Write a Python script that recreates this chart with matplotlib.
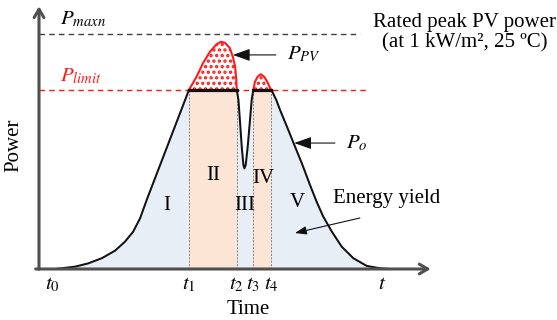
import numpy as np
import matplotlib
matplotlib.use('Agg')
import matplotlib.pyplot as plt

plt.rcParams['font.family'] = ['Liberation Serif', 'DejaVu Serif']
plt.rcParams['mathtext.fontset'] = 'stix'
plt.rcParams['hatch.linewidth'] = 1.6

# time in arbitrary units (t0 = 0, t = 10), power normalised to P_maxn = 1
t0, t1, t2, t3, t4, t_end = 0.0, 4.15, 5.60, 6.10, 6.65, 10.0
p_maxn = 1.0
p_limit = 0.762

# output power P_o
rise_t = [0.09, 0.29, 0.70, 1.10, 1.51, 1.91, 2.21, 2.46, 2.67, 2.87, t1]
rise_p = [0.0, 0.003, 0.010, 0.024, 0.046, 0.078, 0.116, 0.159, 0.216, 0.294, p_limit]
dip_t = [t2, 5.65, 5.70, 5.75, 5.80, 5.83, 5.87, 5.93, 6.00, 6.05, t3]
dip_p = [p_limit, 0.719, 0.621, 0.520, 0.443, 0.428, 0.443, 0.520, 0.634, 0.719, p_limit]
fall_t = [t4, 6.80, 6.91, 7.16, 7.32, 7.57, 7.82, 8.02, 8.22, 8.48, 8.78, 9.13, 9.54, 9.94, 10.24]
fall_p = [p_limit, 0.718, 0.677, 0.592, 0.536, 0.450, 0.357, 0.286, 0.223, 0.159, 0.095, 0.046, 0.013, 0.003, 0.0]

# available PV power above the limit (curtailed part)
pv1_t = [t1, 4.38, 4.58, 4.79, 4.99, 5.12, 5.24, 5.39, 5.48, 5.55, 5.58, t2]
pv1_p = [p_limit, 0.818, 0.877, 0.925, 0.957, 0.967, 0.963, 0.940, 0.903, 0.861, 0.813, p_limit]
pv2_t = [t3, 6.15, 6.23, 6.33, 6.43, 6.52, 6.61, t4]
pv2_p = [p_limit, 0.797, 0.818, 0.829, 0.818, 0.797, 0.770, p_limit]

tick_times = [t0, t1, t2, t3, t4, t_end]
tick_labels = [r'$t_{\mathit{0}}$', r'$t_{\mathit{1}}$', r'$t_{\mathit{2}}$',
               r'$t_{\mathit{3}}$', r'$t_{\mathit{4}}$', '$t$']
region_names = ['I', 'II', 'III', 'IV', 'V']
region_pos = [(3.48, 0.272), (4.88, 0.40), (5.85, 0.272), (6.39, 0.387), (7.42, 0.281)]

po_t = np.array(rise_t + dip_t + fall_t)
po_p = np.array(rise_p + dip_p + fall_p)

# px -> data mapping: x_px = 52 + 33*t, y_px = 269 - 235*p
fig = plt.figure(figsize=(5.57, 3.2), dpi=100)
ax = fig.add_axes([0, 0, 1, 1])
ax.set_xlim(-52 / 33, (557 - 52) / 33)
ax.set_ylim((269 - 320) / 235, 269 / 235)
ax.axis('off')

blue = '#e8eef6'
peach = '#fce5d5'
ax.fill_between(po_t, 0, po_p, color=blue, lw=0, zorder=1)
ax.fill_between(po_t, 0, po_p, where=(po_t >= t1) & (po_t <= t2), color=peach, lw=0, zorder=2)
ax.fill_between(po_t, 0, po_p, where=(po_t >= t3) & (po_t <= t4), color=peach, lw=0, zorder=2)

for tt in [t1, t2, t3, t4]:
    ax.plot([tt, tt], [0, p_limit], color='#808080', lw=0.7, ls=(0, (2, 1.5)), zorder=3)

# curtailed PV power (dotted red)
for xs, ys in [(pv1_t, pv1_p), (pv2_t, pv2_p)]:
    ax.fill_between(xs, p_limit, ys, facecolor='white', edgecolor='#ff1a1a', hatch='...', lw=0, zorder=3)
    ax.plot(xs, ys, color='#ff1a1a', lw=1.5, zorder=4, solid_joinstyle='round')

# reference lines
ax.plot([-0.39, 9.33], [p_maxn, p_maxn], color='#404040', lw=1.0, ls=(0, (4, 3)), zorder=2)
ax.plot([-0.39, 9.52], [p_limit, p_limit], color='#ff1a1a', lw=1.0, ls=(0, (4, 3)), zorder=2)

ax.plot(po_t, po_p, color='#111111', lw=1.45, zorder=5, solid_joinstyle='round')
ax.plot([t1, t2], [p_limit, p_limit], color='#111111', lw=2.3, zorder=5)
ax.plot([t3, t4], [p_limit, p_limit], color='#111111', lw=2.3, zorder=5)

# axes with arrows
axc = '#505050'
ax.annotate('', xy=(-0.394, 1.13), xytext=(-0.394, -0.013),
            arrowprops=dict(arrowstyle='->,head_length=0.6,head_width=0.35', color=axc, lw=2.2), zorder=6)
ax.annotate('', xy=(11.56, 0), xytext=(-0.58, 0),
            arrowprops=dict(arrowstyle='->,head_length=0.6,head_width=0.35', color=axc, lw=2.2), zorder=6)

for tt, lab in zip(tick_times, tick_labels):
    ax.text(tt, -0.068, lab, ha='center', va='center', fontsize=15)

for name, (x, y) in zip(region_names, region_pos):
    ax.text(x, y, name, ha='center', va='center', fontsize=15, zorder=6)

ax.text(-1.15, 0.528, 'Power', rotation=90, ha='center', va='center', fontsize=15)
ax.text(5.94, -0.174, 'Time', ha='center', va='center', fontsize=15)

ax.text(0.24, 1.06, '$P_{maxn}$', ha='left', va='center', fontsize=15)
ax.text(0.24, 0.821, '$P_{limit}$', ha='left', va='center', fontsize=15, color='#ff1a1a')
ax.text(12.5, 1.007, 'Rated peak PV power\n(at 1 kW/m², 25 ºC)', ha='center', va='center',
        fontsize=15, linespacing=1.1)

arr = dict(arrowstyle='-|>,head_length=0.7,head_width=0.25', color='#111111', lw=0.8)
ax.annotate('$P_{PV}$', xy=(5.48, 0.911), xytext=(7.12, 0.911), va='center', ha='left', fontsize=15,
            arrowprops=dict(arr, shrinkA=6, shrinkB=0))
ax.annotate('$P_o$', xy=(7.34, 0.536), xytext=(8.91, 0.536), va='center', ha='left', fontsize=15,
            arrowprops=dict(arr, shrinkA=6, shrinkB=0))
ax.text(8.52, 0.302, 'Energy yield', ha='left', va='center', fontsize=15)
ax.annotate('', xy=(7.36, 0.153), xytext=(9.33, 0.217), arrowprops=dict(arr, shrinkA=0, shrinkB=0))

fig.savefig('out.png', dpi=100)
